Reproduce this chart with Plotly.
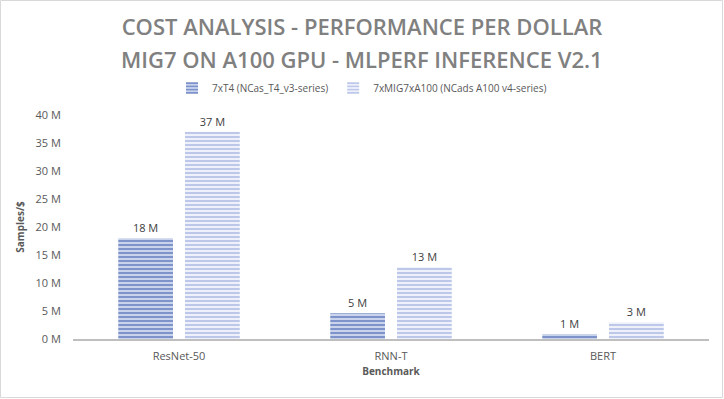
import plotly.graph_objects as go

categories = ["ResNet-50", "RNN-T", "BERT"]
series_names = ["7xT4 (NCas_T4_v3-series)", "7xMIG7xA100 (NCads A100 v4-series)"]
t4_values = [18.0, 4.6, 0.9]
a100_values = [37.0, 12.8, 3.0]
y_ticks = [0, 5, 10, 15, 20, 25, 30, 35, 40]
y_tick_text = [f"{v} M" for v in y_ticks]
title_lines = ["COST ANALYSIS - PERFORMANCE PER DOLLAR", "MIG7 ON A100 GPU - MLPERF INFERENCE V2.1"]

W, H = 724, 399
ML, MR, MT, MB = 73, 15, 115, 60

gray_text = "#595959"
font_family = "Open Sans, Liberation Sans, sans-serif"
title_font = dict(family="Open Sans, sans-serif", size=22, color="#808080", weight=600)

fig = go.Figure()
fig.add_trace(go.Bar(
    x=categories, y=t4_values, name=series_names[0],
    marker=dict(color="#C9D3EC", line=dict(width=0),
                pattern=dict(shape="-", fgcolor="#3253A5", bgcolor="#C9D3EC", size=4, solidity=0.5)),
    texttemplate="%{y:.0f} M", textposition="outside",
    textfont=dict(size=11, color="#404040", family=font_family),
    cliponaxis=False,
))
fig.add_trace(go.Bar(
    x=categories, y=a100_values, name=series_names[1],
    marker=dict(color="#EEF1FA", line=dict(width=0),
                pattern=dict(shape="-", fgcolor="#8B9ED8", bgcolor="#EEF1FA", size=4, solidity=0.5)),
    texttemplate="%{y:.0f} M", textposition="outside",
    textfont=dict(size=11, color="#404040", family=font_family),
    cliponaxis=False,
))

pw = W - ML - MR
ph = H - MT - MB

fig.update_layout(
    width=W, height=H,
    margin=dict(l=ML, r=MR, t=MT, b=MB, autoexpand=False),
    paper_bgcolor="white", plot_bgcolor="white",
    barmode="group", bargap=0.37, bargroupgap=0.18,
    title=dict(
        text=title_lines[0],
        x=0.5, xref="container", xanchor="center",
        y=1 - 27 / H, yref="container", yanchor="middle",
        font=title_font,
    ),
    legend=dict(
        orientation="h", x=0.5, xref="container", xanchor="center",
        y=1 - 88 / H, yref="container", yanchor="middle",
        font=dict(size=10, color=gray_text, family=font_family),
        itemwidth=30, tracegroupgap=0,
    ),
    font=dict(family=font_family, color=gray_text),
    showlegend=True,
)
# second title line
fig.add_annotation(
    text=title_lines[1], showarrow=False,
    xref="paper", yref="paper",
    x=(W / 2 - ML) / pw, y=1 + (MT - 59) / ph,
    xanchor="center", yanchor="middle",
    font=title_font,
)
fig.update_xaxes(
    showline=True, linecolor="#BFBFBF", linewidth=2, showgrid=False,
    ticks="outside", ticklen=6, tickcolor="rgba(0,0,0,0)",
    tickfont=dict(size=11, color=gray_text, family=font_family),
    title=dict(text="<b>Benchmark</b>", font=dict(size=10, color=gray_text, family=font_family), standoff=6),
)
fig.update_yaxes(
    range=[0, 40], tickmode="array", tickvals=y_ticks, ticktext=y_tick_text,
    showline=False, showgrid=False, zeroline=False,
    ticks="outside", ticklen=9, tickcolor="rgba(0,0,0,0)",
    tickfont=dict(size=11, color=gray_text, family=font_family),
    title=dict(text="<b>Samples/$</b>", font=dict(size=10, color=gray_text, family=font_family), standoff=8),
)
# chart border
fig.add_shape(
    type="rect", xref="paper", yref="paper",
    x0=(0.5 - ML) / pw, x1=(W - 1.5 - ML) / pw,
    y0=-(MB - 1.5) / ph, y1=1 + (MT - 0.5) / ph,
    line=dict(color="#D9D9D9", width=1), fillcolor="rgba(0,0,0,0)", layer="below",
)

fig.write_html(
    "out.html",
    config={"displayModeBar": False},
    post_script="document.body.style.margin='0';document.body.style.overflow='hidden';",
)
